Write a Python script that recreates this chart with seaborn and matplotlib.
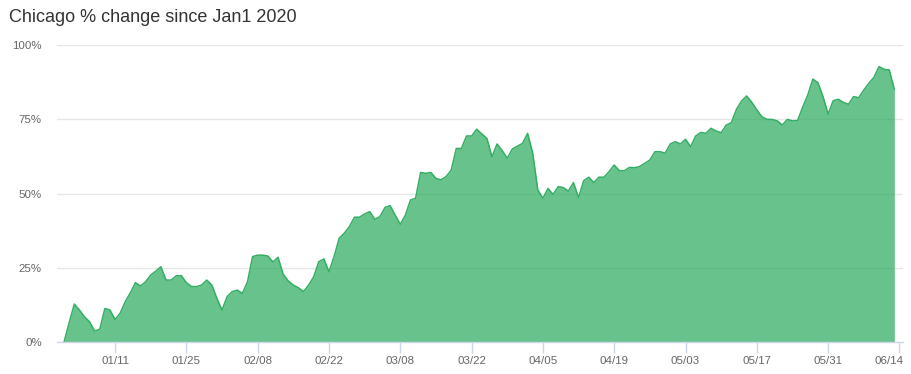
import numpy as np
import pandas as pd
import matplotlib
matplotlib.use('Agg')
import matplotlib.pyplot as plt
import matplotlib.transforms as mtransforms
import seaborn as sns

# daily % change since Jan 1 (day 0 = 01/01)
pct_change = [
    0.0, 6.5, 12.7, 10.7, 8.4, 6.7, 3.6, 4.2, 11.2, 10.7,
    7.5, 9.6, 13.5, 16.5, 19.9, 18.8, 20.2, 22.5, 23.8, 25.3,
    20.8, 20.8, 22.2, 22.3, 19.9, 18.6, 18.6, 19.1, 20.8, 19.1,
    14.6, 10.7, 15.2, 16.9, 17.4, 16.3, 20.2, 28.7, 29.2, 29.2,
    28.9, 26.9, 28.5, 22.8, 20.5, 19.1, 18.2, 16.9, 19.1, 21.9,
    27.0, 27.9, 23.6, 28.7, 34.9, 36.6, 38.8, 42.0, 42.0, 43.1,
    43.9, 41.3, 42.2, 45.3, 45.9, 42.7, 39.6, 42.7, 47.8, 48.4,
    57.1, 56.8, 57.1, 55.1, 54.6, 55.7, 57.9, 65.2, 65.2, 69.4,
    69.4, 71.7, 70.1, 68.6, 62.4, 66.7, 64.5, 61.9, 65.0, 66.0,
    66.9, 70.3, 63.6, 51.2, 48.4, 51.7, 49.7, 52.3, 52.0, 50.8,
    53.7, 48.6, 54.3, 55.5, 53.7, 55.5, 55.5, 57.4, 59.6, 57.7,
    57.7, 58.8, 58.7, 59.1, 60.2, 61.3, 64.1, 64.1, 63.6, 66.7,
    67.5, 66.7, 68.3, 65.8, 69.4, 70.6, 70.3, 72.0, 71.1, 70.5,
    73.1, 73.9, 78.4, 81.2, 82.9, 80.8, 78.2, 75.9, 75.0, 75.0,
    74.5, 73.1, 75.0, 74.5, 74.6, 79.1, 83.2, 88.6, 87.4, 82.7,
    76.8, 81.3, 81.8, 80.7, 80.1, 82.7, 82.3, 84.9, 87.2, 89.2,
    92.8, 91.9, 91.7, 85.2,
]
days = list(range(len(pct_change)))

tick_days = [10, 24, 38, 52, 66, 80, 94, 108, 122, 136, 150, 164]
tick_labels = ['01/11', '01/25', '02/08', '02/22', '03/08', '03/22',
               '04/05', '04/19', '05/03', '05/17', '05/31', '06/14']
y_ticks = [0, 25, 50, 75, 100]
y_labels = ['0%', '25%', '50%', '75%', '100%']

df = pd.DataFrame({'day': days, 'pct': pct_change})

sns.set_style('white')
plt.rcParams['font.family'] = ['Liberation Sans', 'DejaVu Sans']

green = '#34ae64'
fig = plt.figure(figsize=(9.11, 3.74), dpi=100)
ax = fig.add_axes([57 / 911, 32.3 / 374, 846 / 911, 296.4 / 374])

ax.fill_between(df['day'], 0, df['pct'], color=green, alpha=0.75, lw=0, zorder=2)
sns.lineplot(data=df, x='day', y='pct', color=green, lw=1.1, ax=ax, zorder=3)

ax.set_xlim(-1.4, 164.7)
ax.set_ylim(0, 100)
ax.set_yticks(y_ticks)
ax.set_yticklabels(y_labels)
ax.set_xticks(tick_days)
ax.set_xticklabels(tick_labels)
ax.set_xlabel('')
ax.set_ylabel('')

for v in y_ticks[1:]:
    ax.axhline(v, color='#e6e6e6', lw=1, zorder=1)

for s in ['top', 'right', 'left']:
    ax.spines[s].set_visible(False)
ax.spines['bottom'].set_color('#ccd6eb')
ax.spines['bottom'].set_linewidth(1)
ax.spines['bottom'].set_zorder(4)

ax.tick_params(axis='x', length=8, width=1, color='#ccd6eb', labelcolor='#666666',
               labelsize=8.25, pad=2, bottom=True)
ax.tick_params(axis='y', length=0, labelsize=8.25, labelcolor='#666666', pad=11)

# keep the last date label inside the figure
last = ax.get_xticklabels()[-1]
last.set_horizontalalignment('right')
last.set_transform(last.get_transform() + mtransforms.ScaledTranslation(4 / 100, 0, fig.dpi_scale_trans))

fig.text(9 / 911, 1 - 17 / 374, 'Chicago % change since Jan1 2020', fontsize=13,
         color='#333333', ha='left', va='center')

fig.savefig('out.png', dpi=100)
